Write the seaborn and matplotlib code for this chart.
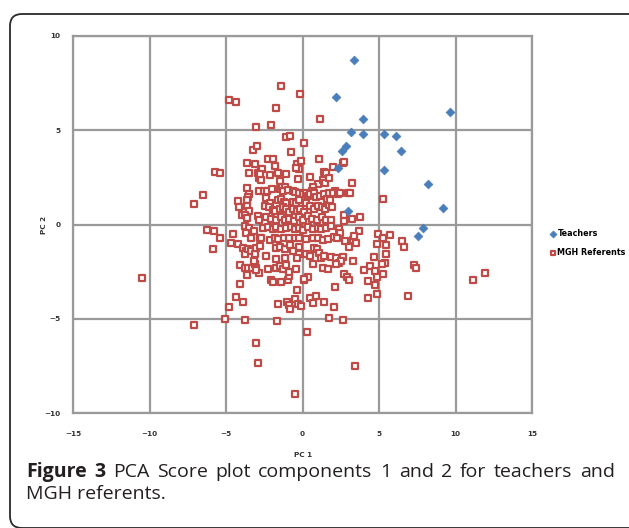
import matplotlib
matplotlib.use("Agg")
import matplotlib.pyplot as plt
import matplotlib.patches as mpatches
from matplotlib.transforms import IdentityTransform
import seaborn as sns
import pandas as pd

# ---------------- data ----------------
teachers_pc1 = [3.39, 2.19, 9.61, 3.97, 3.19, 3.94, 5.33, 6.14, 6.45, 2.87, 2.61, 5.33,
                2.30, 8.22, 9.16, 2.98, 7.89, 7.57]
teachers_pc2 = [8.73, 6.77, 5.98, 5.59, 4.93, 4.82, 4.80, 4.71, 3.91, 4.16, 3.89, 2.89,
                3.02, 2.14, 0.89, 0.71, -0.16, -0.61]

referents = [
    # upper outliers
    (-1.38, 7.36), (-0.18, 6.91), (-4.83, 6.63), (-4.36, 6.52), (-1.72, 6.16), (1.15, 5.61),
    # upper-left
    (-3.02, 5.17), (-3.24, 3.96), (-2.95, 4.19), (-5.73, 2.77), (-5.41, 2.73), (-6.49, 1.56),
    (-7.10, 1.08), (-3.63, 3.25), (-3.08, 3.21), (-3.50, 2.72), (-3.60, 1.95), (-3.50, 1.62),
    (-3.54, 1.47), (-4.21, 1.24), (-3.63, 1.30), (-4.15, 0.94), (-3.60, 0.98), (-3.50, 0.72),
    (-3.97, 0.53), (-3.78, 0.50), (-3.63, 0.32), (-2.91, 0.44), (-2.85, 0.23), (-2.91, 2.72),
    (-2.87, 2.45), (-2.74, 2.36), (-2.74, 2.95), (-2.85, 1.80),
    # upper-centre
    (-2.06, 5.30), (-1.06, 4.64), (-0.83, 4.67), (0.07, 4.33), (-0.72, 3.87), (-2.26, 3.50),
    (-1.93, 3.50), (-1.82, 3.12), (1.06, 3.50), (-0.37, 3.23), (-0.08, 3.39), (-0.24, 2.96),
    (-0.41, 2.98), (-2.63, 2.96), (-2.76, 2.68), (-2.15, 2.63), (-1.61, 2.72), (-1.09, 2.68),
    (-1.48, 2.31), (-0.28, 2.41), (0.46, 2.51), (1.00, 2.13), (0.67, 2.00), (0.59, 1.78),
    (1.43, 2.80), (1.54, 2.72), (1.32, 2.36), (1.48, 2.22),
    (-2.54, 1.79), (-2.30, 1.79), (-2.02, 1.87), (-1.50, 1.87), (-1.35, 2.00), (-1.13, 1.99),
    (-1.28, 1.79), (-0.93, 1.81), (-0.63, 1.78), (-0.46, 1.74), (-0.20, 1.69), (0.02, 1.62),
    (0.24, 1.69), (0.33, 1.51), (0.52, 1.62), (0.74, 1.69), (0.89, 1.47), (1.17, 1.51),
    (1.43, 1.62), (1.61, 1.33), (1.76, 1.65),
    (-2.36, 1.39), (-2.15, 1.15), (-1.61, 1.30), (-1.43, 1.33), (-1.24, 1.20), (-1.06, 1.15),
    (-0.63, 1.19), (-0.41, 1.12), (-0.20, 1.30), (0.24, 1.12), (0.50, 0.98), (0.72, 0.80),
    (1.04, 0.98), (1.26, 0.94), (1.50, 0.83), (1.71, 1.05),
    (-2.48, 0.98), (-2.20, 0.91), (-1.93, 0.76), (-1.78, 0.69), (-1.50, 0.80), (-1.28, 0.91),
    (-1.06, 0.80), (-0.85, 0.64), (-0.63, 0.80), (-0.37, 0.72), (-0.15, 0.80), (0.08, 0.64),
    (-2.36, 0.40), (-2.04, 0.31), (-1.72, 0.22), (-1.39, 0.40), (-1.17, 0.22), (-0.85, 0.31),
    (-0.57, 0.19), (-0.20, 0.40), (0.02, 0.22), (0.33, 0.43), (0.65, 0.31), (0.98, 0.22),
    (1.30, 0.40), (1.52, 0.26),
    # upper-right
    (2.63, 3.28), (2.70, 3.30), (1.98, 3.07), (1.76, 2.45), (3.21, 2.18), (2.13, 1.78),
    (1.98, 1.69), (2.30, 1.62), (2.48, 1.69), (2.95, 1.65), (3.11, 1.69), (1.82, 1.30),
    (1.94, 0.91), (5.23, 1.33), (2.74, 0.50), (2.74, 0.18), (3.24, 0.27), (3.76, 0.41),
    (1.87, 0.23),
    # lower-left
    (-10.51, -2.85), (-6.27, -0.30), (-5.80, -0.37), (-5.36, -0.73), (-5.88, -1.32),
    (-4.54, -0.52), (-4.69, -1.00), (-4.21, -1.05), (-3.78, -0.07), (-3.50, -0.16),
    (-3.71, -0.46), (-3.39, -0.69), (-3.17, -0.37), (-2.80, -0.73),
    (-3.89, -1.23), (-3.71, -1.41), (-3.78, -1.58), (-3.56, -1.28), (-3.34, -1.41),
    (-3.13, -1.55), (-3.02, -1.23), (-2.80, -1.14),
    (-4.06, -2.15), (-3.78, -2.29), (-3.56, -2.33), (-3.28, -2.29), (-3.13, -2.08),
    (-3.02, -2.29), (-2.85, -2.56), (-3.60, -2.69), (-3.20, -1.95), (-3.05, -2.40),
    (-4.10, -3.15), (-4.36, -3.86), (-3.89, -4.10), (-4.82, -4.36), (-5.08, -4.99),
    (-3.78, -5.08), (-7.08, -5.31), (-3.02, -6.30), (-2.91, -7.33), (-0.50, -8.98),
    # lower-centre
    (-2.59, -0.16), (-2.26, -0.13), (-1.93, -0.25), (-1.72, -0.13), (-1.39, -0.25),
    (-1.06, -0.16), (-0.74, -0.13), (-0.52, -0.25), (-0.20, -0.16), (0.02, -0.30),
    (0.35, -0.13), (0.67, -0.25), (1.00, -0.16), (1.22, -0.25), (1.54, -0.16),
    (-2.69, -0.73), (-2.15, -0.84), (-1.82, -0.69), (-1.61, -0.78), (-1.24, -0.73),
    (-0.85, -0.69), (-0.52, -0.73), (-0.20, -0.69), (0.24, -0.78), (0.67, -0.73),
    (1.00, -0.69), (1.32, -0.84), (1.65, -0.78),
    (-1.72, -1.23), (-1.50, -1.19), (-1.17, -1.32), (-0.80, -1.09), (-0.63, -1.41),
    (-0.26, -1.19), (-0.20, -1.58),
    (-2.36, -1.67), (-1.76, -1.85), (-1.17, -1.76), (0.24, -1.58), (0.46, -1.67),
    (0.78, -1.23), (0.93, -1.32), (1.11, -1.49), (1.22, -1.76), (1.43, -1.67), (-0.39, -1.79),
    (-2.26, -2.38), (-1.72, -2.29), (-1.45, -2.21), (-1.28, -2.38), (-0.41, -2.38),
    (0.13, -2.92), (0.35, -2.79), (0.67, -2.12), (1.32, -2.29), (1.65, -2.38),
    (-2.04, -2.92), (-1.93, -3.04), (-1.39, -3.06), (-0.96, -2.92), (-0.85, -2.74),
    (-1.11, -2.17), (-0.89, -2.53), (0.08, -2.90), (-0.33, -3.45),
    (-0.52, -3.93), (-1.02, -4.10), (-0.89, -4.29), (-0.80, -4.46), (-0.31, -4.21),
    (-0.09, -4.34), (0.46, -3.89), (0.67, -4.16), (0.89, -3.81), (1.43, -4.10),
    (1.71, -4.96), (-1.61, -4.20), (-1.67, -5.10), (0.29, -5.69),
    # lower-right
    (1.87, -0.07), (2.41, -0.25), (2.46, -0.43), (2.08, -0.66), (2.24, -0.73), (2.80, -0.87),
    (3.02, -1.19), (3.32, -0.84), (3.50, -0.96), (3.71, -0.34), (3.39, -0.61),
    (1.87, -1.73), (2.19, -1.76), (2.41, -2.03), (2.63, -1.73), (2.52, -1.94), (2.19, -2.12),
    (3.28, -1.94), (2.74, -2.65), (2.89, -2.79), (3.02, -2.95), (2.15, -3.30),
    (2.08, -4.37), (2.67, -5.08), (3.45, -7.52),
    (4.95, -0.52), (5.23, -0.69), (5.71, -0.57), (4.84, -1.01), (5.47, -1.10), (4.69, -1.73),
    (5.45, -1.58), (4.41, -2.19), (5.41, -2.05), (5.17, -2.12), (4.71, -2.47), (5.28, -2.61),
    (4.84, -2.76), (4.02, -2.44), (4.30, -3.02), (4.73, -3.22), (4.86, -3.70), (4.30, -3.91),
    (6.49, -0.87), (6.64, -1.19), (7.30, -2.17), (7.45, -2.31), (6.88, -3.79),
    (11.16, -2.92), (11.92, -2.58),
]
referents_pc1 = [p[0] for p in referents]
referents_pc2 = [p[1] for p in referents]

group_names = ["Teachers", "MGH Referents"]
x_ticks = [-15, -10, -5, 0, 5, 10, 15]
y_ticks = [-10, -5, 0, 5, 10]
caption_bold = "Figure 3"
caption_line1 = "PCA Score plot components 1 and 2 for teachers and"
caption_line2 = "MGH referents."

# ---------------- figure ----------------
W, H = 629, 528
fig = plt.figure(figsize=(W / 100, H / 100), dpi=100)
fig.patch.set_facecolor("white")

def fx(px):
    return px / W

def fy(py):
    return 1 - py / H

ax = fig.add_axes([fx(73), fy(413), fx(532) - fx(73), fy(36) - fy(413)])

df_t = pd.DataFrame({"PC 1": teachers_pc1, "PC 2": teachers_pc2})
df_r = pd.DataFrame({"PC 1": referents_pc1, "PC 2": referents_pc2})

blue = "#4a7ebb"
red = "#be4b48"

sns.scatterplot(data=df_r, x="PC 1", y="PC 2", ax=ax, marker="s", s=16,
                color="white", edgecolor=red, linewidth=1.6, label=group_names[1], zorder=3)
sns.scatterplot(data=df_t, x="PC 1", y="PC 2", ax=ax, marker="D", s=20,
                color=blue, edgecolor=blue, linewidth=0.5, label=group_names[0], zorder=4)

ax.set_xlim(-15, 15)
ax.set_ylim(-10, 10)
ax.set_xticks(x_ticks)
ax.set_yticks(y_ticks)
grid_c = "#9a9a9a"
ax.grid(True, color=grid_c, linewidth=1.6, zorder=0)
ax.set_axisbelow(True)
for sp in ax.spines.values():
    sp.set_color(grid_c)
    sp.set_linewidth(1.6)
ax.tick_params(length=0, labelsize=5.2, colors="#333333")
ax.tick_params(axis="x", pad=13)
ax.tick_params(axis="y", pad=9)
for lab in ax.get_xticklabels() + ax.get_yticklabels():
    lab.set_fontweight("bold")
ax.set_xlabel("")
ax.set_ylabel("")
fig.text(fx(303), fy(455), "PC 1", ha="center", va="center", fontsize=5.2,
         fontweight="bold", color="#333333")
fig.text(fx(44), fy(225), "PC 2", ha="center", va="center", fontsize=5.2,
         fontweight="bold", color="#333333", rotation=90)

# legend (Teachers first)
handles, labels = ax.get_legend_handles_labels()
order = [labels.index(n) for n in group_names]
ax.legend([handles[i] for i in order], [labels[i] for i in order],
          loc="center left", bbox_to_anchor=(fx(551), fy(243)),
          bbox_transform=fig.transFigure, frameon=False,
          handlelength=0.6, handletextpad=0.2, labelspacing=1.2,
          borderaxespad=0, borderpad=0, markerscale=0.8,
          prop={"weight": "bold", "size": 5.8})

# rounded border
border = mpatches.FancyBboxPatch((10, H - 528), 640, 528 - 14,
                                 boxstyle="round,pad=0,rounding_size=12",
                                 transform=IdentityTransform(), fill=False,
                                 edgecolor="#2a2a2a", linewidth=1.3)
fig.patches.append(border)

# caption (line 1 justified)
cap_font = "Open Sans"
cap_size = 14
cap_color = "#231f20"
renderer = fig.canvas.get_renderer()
words = [(caption_bold.split()[0], "bold"), (caption_bold.split()[1], "bold")] + \
        [(w, "normal") for w in caption_line1.split()]
texts = []
for w, wt in words:
    t = fig.text(0, 0, w, fontsize=cap_size, fontweight=wt, family=cap_font,
                 color=cap_color, va="baseline", ha="left")
    texts.append(t)
widths = [t.get_window_extent(renderer).width for t in texts]
left, right = 26, 615
gap = (right - left - sum(widths)) / (len(texts) - 1)
xpos = left
for t, wdt in zip(texts, widths):
    t.set_position((fx(xpos), fy(477)))
    xpos += wdt + gap
fig.text(fx(26), fy(499), caption_line2, fontsize=cap_size, family=cap_font,
         color=cap_color, va="baseline", ha="left")

fig.savefig("out.png", dpi=100)
